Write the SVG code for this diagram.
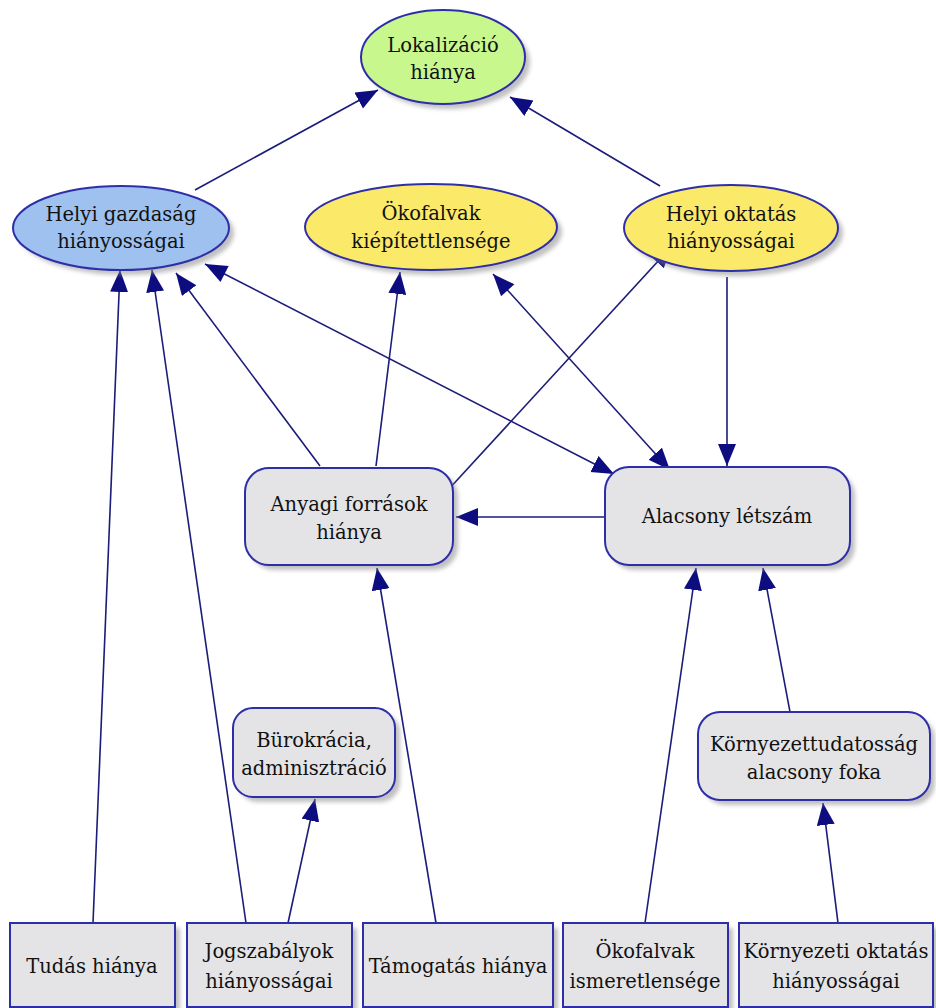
<svg xmlns="http://www.w3.org/2000/svg" width="936" height="1008" viewBox="0 0 936 1008">
<style>
.node{stroke:#2e2ea8;stroke-width:2}
.green{fill:#c8f78e}
.blue{fill:#9ec1f0}
.yellow{fill:#fbe96a}
.gray{fill:#e4e4e6}
.sh{fill:#8c8c8c;opacity:.55;filter:url(#blur)}
text{font-family:"DejaVu Serif","Liberation Serif",serif;font-size:19.5px;fill:#111;text-anchor:middle}
.edge{stroke:#1c1c7a;stroke-width:1.6;fill:none}
</style>
<defs>
<filter id="blur" x="-10%" y="-10%" width="120%" height="120%"><feGaussianBlur stdDeviation="2"/></filter>
<marker id="ah" markerUnits="userSpaceOnUse" markerWidth="24" markerHeight="20" refX="22" refY="9" orient="auto"><path d="M0,0 L22,9 L0,18 Z" fill="#0d0d80"/></marker>
<marker id="at" markerUnits="userSpaceOnUse" markerWidth="24" markerHeight="20" refX="0" refY="9" orient="auto"><path d="M22,0 L0,9 L22,18 Z" fill="#0d0d80"/></marker>
</defs>
<g id="connectors">
<line class="edge" x1="195" y1="190" x2="378" y2="90" marker-end="url(#ah)"/>
<line class="edge" x1="660" y1="186" x2="510" y2="97" marker-end="url(#ah)"/>
<line class="edge" x1="93" y1="923" x2="120" y2="270" marker-end="url(#ah)"/>
<line class="edge" x1="246" y1="923" x2="152" y2="270" marker-end="url(#ah)"/>
<line class="edge" x1="320" y1="466" x2="176" y2="273" marker-end="url(#ah)"/>
<line class="edge" x1="205" y1="264" x2="614" y2="474" marker-start="url(#at)" marker-end="url(#ah)"/>
<line class="edge" x1="376" y1="466" x2="400" y2="272" marker-end="url(#ah)"/>
<line class="edge" x1="448" y1="490" x2="672" y2="246" marker-end="url(#ah)"/>
<line class="edge" x1="493" y1="274" x2="670" y2="470" marker-start="url(#at)" marker-end="url(#ah)"/>
<line class="edge" x1="727" y1="277" x2="727" y2="466" marker-end="url(#ah)"/>
<line class="edge" x1="605" y1="517" x2="456" y2="517" marker-end="url(#ah)"/>
<line class="edge" x1="436" y1="923" x2="377" y2="568" marker-end="url(#ah)"/>
<line class="edge" x1="288" y1="923" x2="315" y2="799" marker-end="url(#ah)"/>
<line class="edge" x1="645" y1="923" x2="696" y2="568" marker-end="url(#ah)"/>
<line class="edge" x1="790" y1="712" x2="763" y2="568" marker-end="url(#ah)"/>
<line class="edge" x1="838" y1="923" x2="823" y2="803" marker-end="url(#ah)"/>
</g>
<g id="lokalizacio">
<ellipse class="sh" cx="448" cy="62" rx="82" ry="47"/>
<ellipse class="node green" cx="443" cy="57" rx="82" ry="47"/>
<text x="443" y="52">Lokalizáció</text><text x="443" y="79">hiánya</text>
</g>
<g id="helyi-gazdasag">
<ellipse class="sh" cx="126" cy="233" rx="108" ry="42"/>
<ellipse class="node blue" cx="121" cy="228" rx="108" ry="42"/>
<text x="121" y="221">Helyi gazdaság</text><text x="121" y="248">hiányosságai</text>
</g>
<g id="okofalvak-kiepitettlensege">
<ellipse class="sh" cx="436" cy="232" rx="126" ry="43"/>
<ellipse class="node yellow" cx="431" cy="227" rx="126" ry="43"/>
<text x="431" y="220">Ökofalvak</text><text x="431" y="248">kiépítettlensége</text>
</g>
<g id="helyi-oktatas">
<ellipse class="sh" cx="736" cy="233" rx="107" ry="43"/>
<ellipse class="node yellow" cx="731" cy="228" rx="107" ry="43"/>
<text x="731" y="221">Helyi oktatás</text><text x="731" y="248">hiányosságai</text>
</g>
<g id="anyagi-forrasok">
<rect class="sh" x="250" y="473" width="208" height="97" rx="24"/>
<rect class="node gray" x="245" y="468" width="208" height="97" rx="24"/>
<text x="349" y="511">Anyagi források</text><text x="349" y="539">hiánya</text>
</g>
<g id="alacsony-letszam">
<rect class="sh" x="610" y="472" width="245" height="98" rx="24"/>
<rect class="node gray" x="605" y="467" width="245" height="98" rx="24"/>
<text x="727" y="523">Alacsony létszám</text>
</g>
<g id="burokracia">
<rect class="sh" x="238" y="713" width="162" height="89" rx="20"/>
<rect class="node gray" x="233" y="708" width="162" height="89" rx="20"/>
<text x="314" y="747">Bürokrácia,</text><text x="314" y="775">adminisztráció</text>
</g>
<g id="kornyezettudatossag">
<rect class="sh" x="703" y="717" width="232" height="88" rx="22"/>
<rect class="node gray" x="698" y="712" width="232" height="88" rx="22"/>
<text x="814" y="751">Környezettudatosság</text><text x="814" y="779">alacsony foka</text>
</g>
<g id="tudas-hianya">
<rect class="sh" x="15" y="928" width="165" height="84"/>
<rect class="node gray" x="10" y="923" width="165" height="84"/>
<text x="92" y="973">Tudás hiánya</text>
</g>
<g id="jogszabalyok">
<rect class="sh" x="192" y="928" width="165" height="84"/>
<rect class="node gray" x="187" y="923" width="165" height="84"/>
<text x="269" y="958">Jogszabályok</text><text x="269" y="988">hiányosságai</text>
</g>
<g id="tamogatas-hianya">
<rect class="sh" x="368" y="928" width="190" height="84"/>
<rect class="node gray" x="363" y="923" width="190" height="84"/>
<text x="458" y="973">Támogatás hiánya</text>
</g>
<g id="okofalvak-ismeretlensege">
<rect class="sh" x="568" y="928" width="165" height="84"/>
<rect class="node gray" x="563" y="923" width="165" height="84"/>
<text x="645" y="958">Ökofalvak</text><text x="645" y="988">ismeretlensége</text>
</g>
<g id="kornyezeti-oktatas">
<rect class="sh" x="744" y="928" width="194" height="84"/>
<rect class="node gray" x="739" y="923" width="194" height="84"/>
<text x="836" y="958">Környezeti oktatás</text><text x="836" y="988">hiányosságai</text>
</g>
</svg>
